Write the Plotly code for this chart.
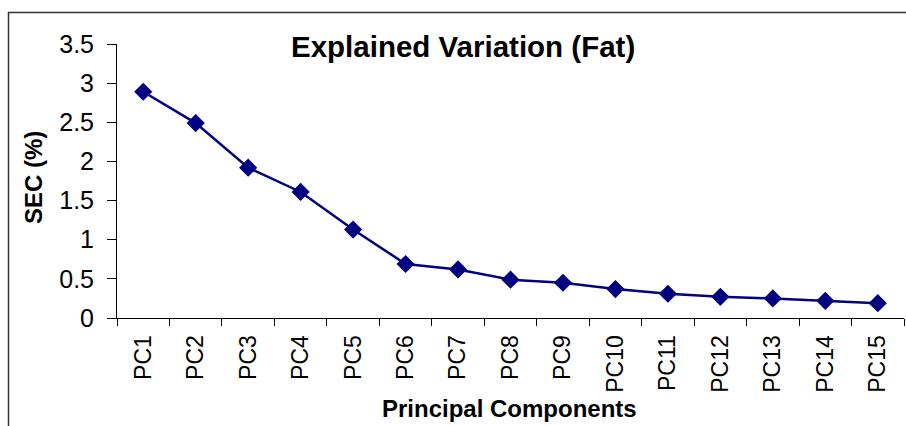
import plotly.graph_objects as go

categories = ["PC1", "PC2", "PC3", "PC4", "PC5", "PC6", "PC7", "PC8",
              "PC9", "PC10", "PC11", "PC12", "PC13", "PC14", "PC15"]
sec_values = [2.89, 2.49, 1.92, 1.61, 1.13, 0.69, 0.62, 0.49,
              0.45, 0.37, 0.31, 0.27, 0.25, 0.22, 0.19]
y_ticks = [0, 0.5, 1, 1.5, 2, 2.5, 3, 3.5]
y_tick_labels = ["0", "0.5", "1", "1.5", "2", "2.5", "3", "3.5"]

FONT = "Liberation Sans, Arial, sans-serif"
NAVY = "#000080"

fig = go.Figure()
fig.add_trace(go.Scatter(
    x=categories, y=sec_values, mode="lines+markers",
    line=dict(color=NAVY, width=2.5),
    marker=dict(symbol="diamond", size=14, color=NAVY),
    showlegend=False,
))

W, H = 906, 426
ml, mr, mt, mb = 117, 2, 44, 108
pw = W - ml - mr
ph = H - mt - mb

def px_x(p):
    return (p - ml) / pw

def px_y(p):
    return (H - mb - p) / ph

fig.update_layout(
    width=W, height=H,
    margin=dict(l=ml, r=mr, t=mt, b=mb),
    paper_bgcolor="white", plot_bgcolor="white",
    font=dict(family=FONT, color="black"),
    xaxis=dict(
        type="category", tickson="boundaries", ticks="outside", ticklen=7,
        tickcolor="black", tickwidth=1, showline=True, linecolor="black",
        linewidth=1, showgrid=False, zeroline=False, tickangle=-90,
        tickfont=dict(size=23, family=FONT), range=[-0.5, 14.5],
        ticklabelstandoff=7,
    ),
    yaxis=dict(
        range=[0, 3.5], tickvals=y_ticks, ticktext=y_tick_labels,
        ticks="outside", ticklen=9, tickcolor="black", tickwidth=1,
        showline=True, linecolor="black", linewidth=1, showgrid=False,
        zeroline=False, tickfont=dict(size=25, family=FONT),
        ticklabelstandoff=8,
    ),
    shapes=[dict(
        type="rect", xref="paper", yref="paper",
        x0=px_x(8.5), x1=px_x(912), y0=px_y(440), y1=px_y(12.5),
        line=dict(color="#333333", width=1.5), fillcolor="rgba(0,0,0,0)",
        layer="above",
    )],
    annotations=[
        dict(text="<b>Explained Variation (Fat)</b>", xref="paper", yref="paper",
             x=px_x(463), y=px_y(46), showarrow=False,
             font=dict(size=29.5, family=FONT), xanchor="center", yanchor="middle"),
        dict(text="<b>SEC (%)</b>", xref="paper", yref="paper",
             x=px_x(33), y=px_y(178), showarrow=False, textangle=-90,
             font=dict(size=24, family=FONT), xanchor="center", yanchor="middle"),
        dict(text="<b>Principal Components</b>", xref="paper", yref="paper",
             x=px_x(509), y=px_y(408), showarrow=False,
             font=dict(size=24, family=FONT), xanchor="center", yanchor="middle"),
    ],
)

fig.write_html("out.html")
